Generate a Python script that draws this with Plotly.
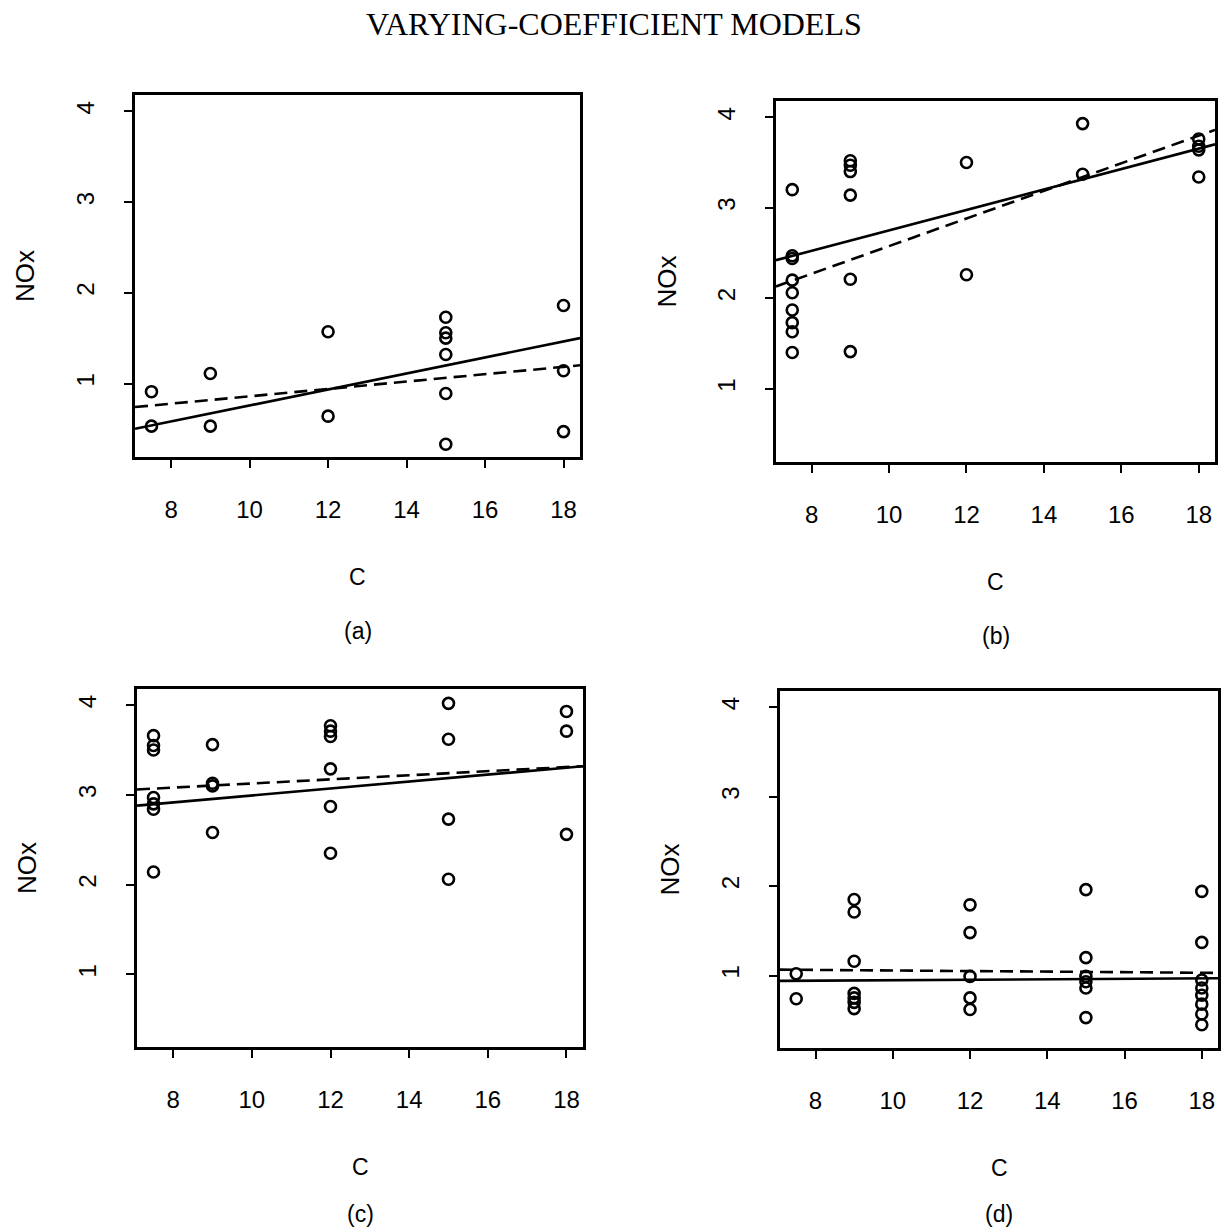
import plotly.graph_objects as go

# ---------------- data ----------------
C_a = [7.5, 7.5, 9, 9, 12, 12, 15, 15, 15, 15, 15, 15, 18, 18, 18]
NOx_a = [0.91, 0.53, 1.11, 0.53, 1.57, 0.64, 1.73, 1.56, 1.50, 1.32, 0.89, 0.33, 1.86, 1.14, 0.47]

C_b = [7.5, 7.5, 7.5, 7.5, 7.5, 7.5, 7.5, 7.5, 7.5,
       9, 9, 9, 9, 9, 9, 12, 12, 15, 15, 18, 18, 18, 18]
NOx_b = [3.20, 2.47, 2.44, 2.20, 2.06, 1.87, 1.73, 1.63, 1.40,
         3.52, 3.47, 3.40, 3.14, 2.21, 1.41, 3.50, 2.26, 3.93, 3.37, 3.76, 3.68, 3.64, 3.34]

C_c = [7.5, 7.5, 7.5, 7.5, 7.5, 7.5, 7.5, 9, 9, 9, 9,
       12, 12, 12, 12, 12, 12, 15, 15, 15, 15, 18, 18, 18]
NOx_c = [3.66, 3.55, 3.50, 2.97, 2.90, 2.84, 2.14, 3.56, 3.13, 3.10, 2.58,
         3.77, 3.71, 3.65, 3.29, 2.87, 2.35, 4.02, 3.62, 2.73, 2.06, 3.93, 3.71, 2.56]

C_d = [7.5, 7.5, 9, 9, 9, 9, 9, 9, 9, 12, 12, 12, 12, 12,
       15, 15, 15, 15, 15, 15, 18, 18, 18, 18, 18, 18, 18, 18]
NOx_d = [1.02, 0.74, 1.85, 1.71, 1.16, 0.80, 0.75, 0.70, 0.63, 1.79, 1.48, 0.99, 0.75, 0.62,
         1.96, 1.20, 0.99, 0.93, 0.86, 0.53, 1.94, 1.37, 0.95, 0.86, 0.78, 0.68, 0.57, 0.45]

# fitted lines: [intercept, slope]
solid_fit = {"a": [-0.124, 0.0882], "b": [1.621, 0.1129], "c": [2.605, 0.0388], "d": [0.921, 0.00265]}
dashed_fit = {"a": [0.453, 0.0406], "b": [1.050, 0.1526], "c": [2.898, 0.0229], "d": [1.088, -0.00317]}

panel_labels = ["(a)", "(b)", "(c)", "(d)"]
x_ticks = [8, 10, 12, 14, 16, 18]
y_ticks = [1, 2, 3, 4]
x_title = "C"
y_title = "NOx"
title = "VARYING-COEFFICIENT MODELS"

X_RANGE = [7.08, 18.42]
Y_RANGE = [0.19, 4.18]

W, H = 1226, 1231

# panel boxes in pixels: left, right, top, bottom
boxes = {
    "a": (135, 580, 95, 457),
    "b": (776, 1215, 101, 462),
    "c": (137, 583, 689, 1047),
    "d": (780, 1218, 691, 1048),
}
data = {"a": (C_a, NOx_a), "b": (C_b, NOx_b), "c": (C_c, NOx_c), "d": (C_d, NOx_d)}


def px(x):
    return x / W


def py(y):
    return 1 - y / H


fig = go.Figure()
font_family = "Liberation Sans, Arial, sans-serif"
layout = {}
annotations = []

for i, key in enumerate(["a", "b", "c", "d"]):
    n = "" if i == 0 else str(i + 1)
    xa, ya = "x" + n, "y" + n
    l, r, t, b = boxes[key]
    cx, cy = data[key]
    fig.add_trace(go.Scatter(
        x=cx, y=cy, mode="markers", xaxis=xa, yaxis=ya,
        marker=dict(symbol="circle-open", size=11, color="black", line=dict(width=2.6, color="black")),
        showlegend=False))
    xs = X_RANGE
    a0, b0 = solid_fit[key]
    fig.add_trace(go.Scatter(x=xs, y=[a0 + b0 * v for v in xs], mode="lines", xaxis=xa, yaxis=ya,
                             line=dict(color="black", width=2.6), showlegend=False))
    a1, b1 = dashed_fit[key]
    fig.add_trace(go.Scatter(x=xs, y=[a1 + b1 * v for v in xs], mode="lines", xaxis=xa, yaxis=ya,
                             line=dict(color="black", width=2.6, dash="13px,7px"), showlegend=False))

    common = dict(showline=True, linecolor="black", linewidth=2.6, mirror=True, showgrid=False,
                  zeroline=False, ticks="outside", ticklen=8, tickwidth=2, tickcolor="black",
                  tickfont=dict(family=font_family, size=24, color="black"))
    layout["xaxis" + n] = dict(common, domain=[px(l), px(r)], range=X_RANGE, tickvals=x_ticks,
                               anchor=ya, ticklabelstandoff=21)
    layout["yaxis" + n] = dict(common, domain=[py(b), py(t)], range=Y_RANGE, tickvals=y_ticks,
                               anchor=xa, tickangle=-90, ticklabelstandoff=21)

    mid_x = (l + r) / 2
    label_y = min(b + 174, 1214)
    annotations.append(dict(text=x_title, x=px(mid_x), y=py(b + 120), xref="paper", yref="paper",
                            xanchor="center", yanchor="middle", showarrow=False,
                            font=dict(family=font_family, size=23, color="black")))
    annotations.append(dict(text=panel_labels[i], x=px(mid_x), y=py(label_y), xref="paper", yref="paper",
                            xanchor="center", yanchor="middle", showarrow=False,
                            font=dict(family=font_family, size=23, color="black")))
    annotations.append(dict(text=y_title, x=px(l - 110), y=py((t + b) / 2), xref="paper", yref="paper",
                            xanchor="center", yanchor="middle", showarrow=False, textangle=-90,
                            font=dict(family=font_family, size=26, color="black")))

annotations.append(dict(text=title, x=px(614), y=py(24), xref="paper", yref="paper", showarrow=False,
                        xanchor="center", yanchor="middle",
                        font=dict(family="Liberation Serif, Times New Roman, serif", size=32, color="black")))

fig.update_layout(width=W, height=H, margin=dict(l=0, r=0, t=0, b=0),
                  plot_bgcolor="white", paper_bgcolor="white",
                  annotations=annotations, **layout)

fig.write_html("out.html", config={"displayModeBar": False},
               post_script="document.body.style.margin='0px';")
